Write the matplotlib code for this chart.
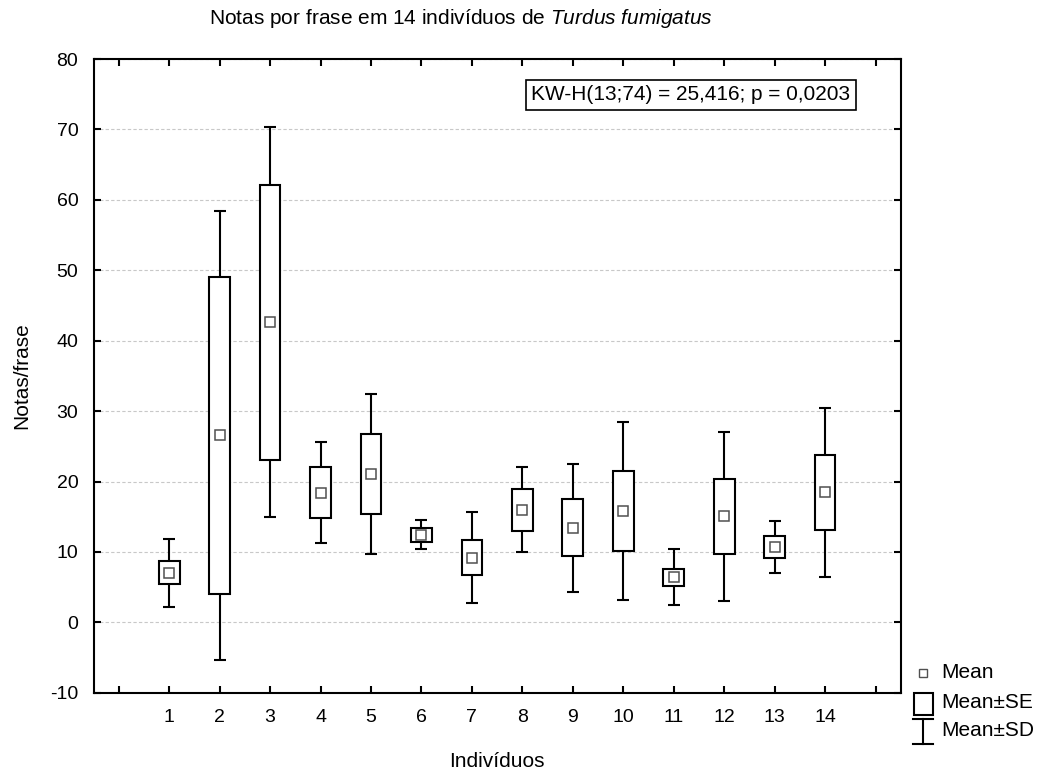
import matplotlib
matplotlib.use("Agg")
import matplotlib.pyplot as plt
from matplotlib.lines import Line2D
from matplotlib.patches import Rectangle

# ===================== data =====================
individuos = [1, 2, 3, 4, 5, 6, 7, 8, 9, 10, 11, 12, 13, 14]
means = [7.05, 26.55, 42.6, 18.4, 21.05, 12.45, 9.2, 16.0, 13.45, 15.8, 6.4, 15.05, 10.7, 18.45]
se = [1.65, 22.55, 19.5, 3.6, 5.7, 1.0, 2.45, 3.0, 4.05, 5.7, 1.2, 5.35, 1.55, 5.37]
sd = [4.85, 31.85, 27.7, 7.2, 11.35, 2.1, 6.4, 6.0, 9.1, 12.7, 4.0, 12.0, 3.7, 12.0]

# ===================== style =====================
plt.rcParams.update({
    "font.family": ["Liberation Sans", "DejaVu Sans"],
    "font.size": 15,
    "axes.unicode_minus": False,
    "mathtext.fontset": "custom",
    "mathtext.rm": "Liberation Sans",
    "mathtext.it": "Liberation Sans:italic",
})

W, H = 1044, 774
fig = plt.figure(figsize=(W / 100, H / 100), dpi=100)
ax = fig.add_axes([0.0896, 0.105, 0.7732, 0.8187])

ax.set_xlim(-0.5, 15.5)
ax.set_ylim(-10, 80)

# grid
ax.set_yticks(range(-10, 81, 10))
ax.yaxis.grid(True, color="#c8c8c8", linestyle=(0, (3, 2)), linewidth=0.8)
ax.set_axisbelow(True)

lo = [m - s for m, s in zip(means, se)]
h = [2 * s for s in se]

ax.errorbar(individuos, means, yerr=sd, fmt="none", ecolor="black",
            elinewidth=1.5, capsize=4.2, capthick=1.5, zorder=2)
ax.bar(individuos, h, bottom=lo, width=0.41, facecolor="white",
       edgecolor="black", linewidth=1.5, zorder=3)
ax.plot(individuos, means, "s", ms=7, mfc="white", mec="#505050",
        mew=1.1, zorder=4)

ax.set_xticks(range(0, 16))
ax.set_xticklabels([""] + [str(i) for i in individuos] + [""])
ax.tick_params(direction="in", length=5, width=1.5, top=True, right=True,
               labelsize=14)
ax.tick_params(axis="x", pad=12)
ax.tick_params(axis="y", pad=11)
for sp in ax.spines.values():
    sp.set_linewidth(1.5)

ax.set_xlabel("Indivíduos", fontsize=15, va="center")
ax.set_ylabel("Notas/frase", fontsize=15, va="center")
ax.xaxis.set_label_coords(0.5, -0.109)
ax.yaxis.set_label_coords(-0.0886, 0.5)

fig.text(461 / W, 1 - 18 / H,
         r"Notas por frase em 14 indivíduos de $\it{Turdus\ fumigatus}$",
         ha="center", va="center", fontsize=15)

fig.text(691 / W, 1 - 95 / H, "KW-H(13;74) = 25,416; p = 0,0203",
         ha="center", va="center", fontsize=15,
         bbox=dict(boxstyle="square,pad=0.25", facecolor="white",
                   edgecolor="black", linewidth=1.2))

# legend (drawn by hand, outside the axes)
tf = fig.transFigure
fig.add_artist(Line2D([922.7 / W], [1 - 673.3 / H], transform=tf, ls="none",
                      marker="s", ms=5.5, mfc="white", mec="#505050", mew=1))
fig.add_artist(Rectangle((914 / W, 1 - 715 / H), 19 / W, 22 / H, transform=tf,
                         facecolor="white", edgecolor="black", linewidth=1.5))
fig.add_artist(Line2D([923 / W, 923 / W], [1 - 719 / H, 1 - 744 / H],
                      transform=tf, color="black", lw=1.5))
fig.add_artist(Line2D([913 / W, 933 / W], [1 - 719 / H, 1 - 719 / H],
                      transform=tf, color="black", lw=1.5))
fig.add_artist(Line2D([913 / W, 933 / W], [1 - 744 / H, 1 - 744 / H],
                      transform=tf, color="black", lw=1.5))
for lab, yy in zip(["Mean", "Mean±SE", "Mean±SD"], [673, 703, 731]):
    fig.text(941 / W, 1 - yy / H, lab, ha="left", va="center", fontsize=15)

fig.savefig("out.png", dpi=100)
